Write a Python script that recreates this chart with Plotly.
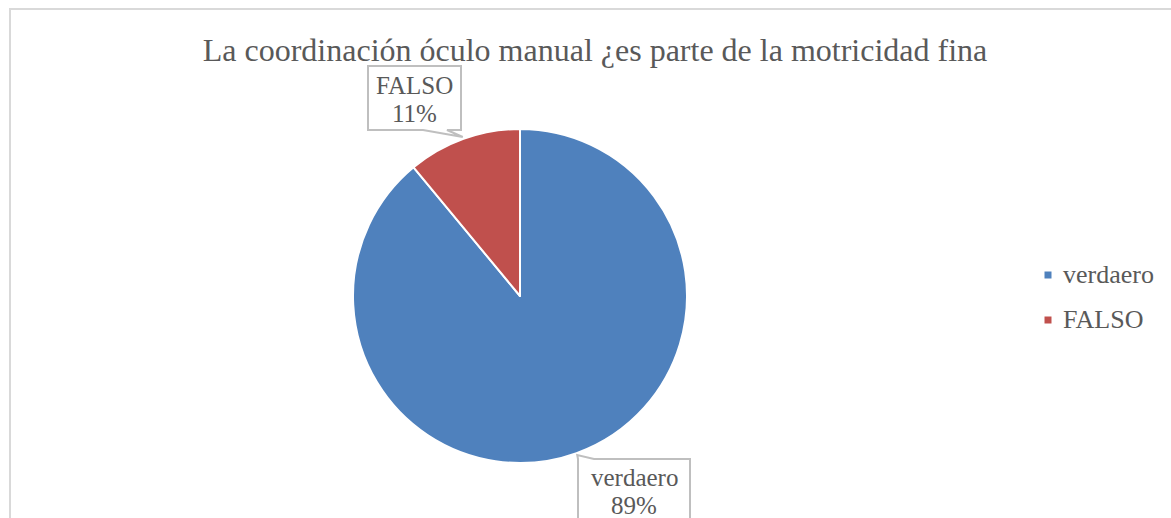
import math
import plotly.graph_objects as go

# ---- data ----
categories = ["verdaero", "FALSO"]
values = [89, 11]
colors = ["#4F81BD", "#C0504D"]
title_text = "La coordinación óculo manual ¿es parte de la motricidad fina"

W, H = 1171, 518
FONT = "Liberation Serif"
TXT = "#595959"

def px(x):
    return x / W

def py(y):
    return 1 - y / H

# pie geometry (pixels)
cx, cy, r = 520, 296, 167

fig = go.Figure()
fig.add_trace(go.Pie(
    labels=categories, values=values, sort=False, direction="clockwise",
    rotation=0, marker=dict(colors=colors, line=dict(color="white", width=2)),
    textinfo="none", hoverinfo="label+percent", showlegend=False,
    domain=dict(x=[px(cx - r), px(cx + r)], y=[py(cy + r), py(cy - r)]),
))

shapes = []
annotations = []

# chart border
shapes.append(dict(type="rect", xref="paper", yref="paper",
                   x0=px(10), x1=px(1185), y0=py(530), y1=py(9),
                   line=dict(color="#D9D9D9", width=2), fillcolor="rgba(0,0,0,0)", layer="below"))

# callout labels, anchored on each slice's mid angle
total = sum(values)
cum = 0
boxes = {
    "FALSO": (368, 66, 461, 130, "bottom", 85),
    "verdaero": (578, 459, 690, 530, "top", 477),
}
for cat, v in zip(categories, values):
    mid = (cum + v / 2) / total * 2 * math.pi
    cum += v
    tx = cx + (r + 2) * math.sin(mid)
    ty = cy - (r + 2) * math.cos(mid)
    x0, y0, x1, y1, side, text_y = boxes[cat]
    if side == "bottom":
        pts = [(x0, y0), (x1, y0), (x1, y1), (x1 - 14, y1), (tx, ty), (x1 - 38, y1), (x0, y1)]
    else:
        pts = [(x0, y0), (tx, ty), (x0 + 16, y0), (x1, y0), (x1, y1), (x0, y1)]
    path = "M " + " L ".join(f"{px(a)},{py(b)}" for a, b in pts) + " Z"
    shapes.append(dict(type="path", xref="paper", yref="paper", path=path,
                       line=dict(color="#BFBFBF", width=2), fillcolor="white", layer="above"))
    pct = round(v / total * 100)
    for i, line in enumerate([cat, f"{pct}%"]):
        annotations.append(dict(x=px((x0 + x1) / 2), y=py(text_y + 28 * i),
                                xref="paper", yref="paper", xanchor="center", yanchor="middle",
                                showarrow=False, text=line, align="center",
                                font=dict(family=FONT, size=25, color=TXT)))

# legend (drawn manually for Excel-like spacing)
leg_y = [275, 320]
for cat, col, ly in zip(categories, colors, leg_y):
    shapes.append(dict(type="rect", xref="paper", yref="paper",
                       x0=px(1044.5), x1=px(1051.5), y0=py(ly + 3.5), y1=py(ly - 3.5),
                       line=dict(width=0), fillcolor=col))
    annotations.append(dict(x=px(1061), y=py(ly - 1), xref="paper", yref="paper",
                            xanchor="left", yanchor="middle", showarrow=False, text=cat,
                            font=dict(family=FONT, size=26, color=TXT)))

fig.update_layout(
    width=W, height=H,
    margin=dict(l=0, r=0, t=0, b=0),
    paper_bgcolor="white", plot_bgcolor="white",
    title=dict(text=title_text, x=px(595), y=py(50), xanchor="center", yanchor="middle",
               font=dict(family=FONT, size=32, color=TXT)),
    shapes=shapes, annotations=annotations, showlegend=False,
)

fig.write_html("out.html", config={"displayModeBar": False},
               post_script="document.body.style.margin='0px';")
